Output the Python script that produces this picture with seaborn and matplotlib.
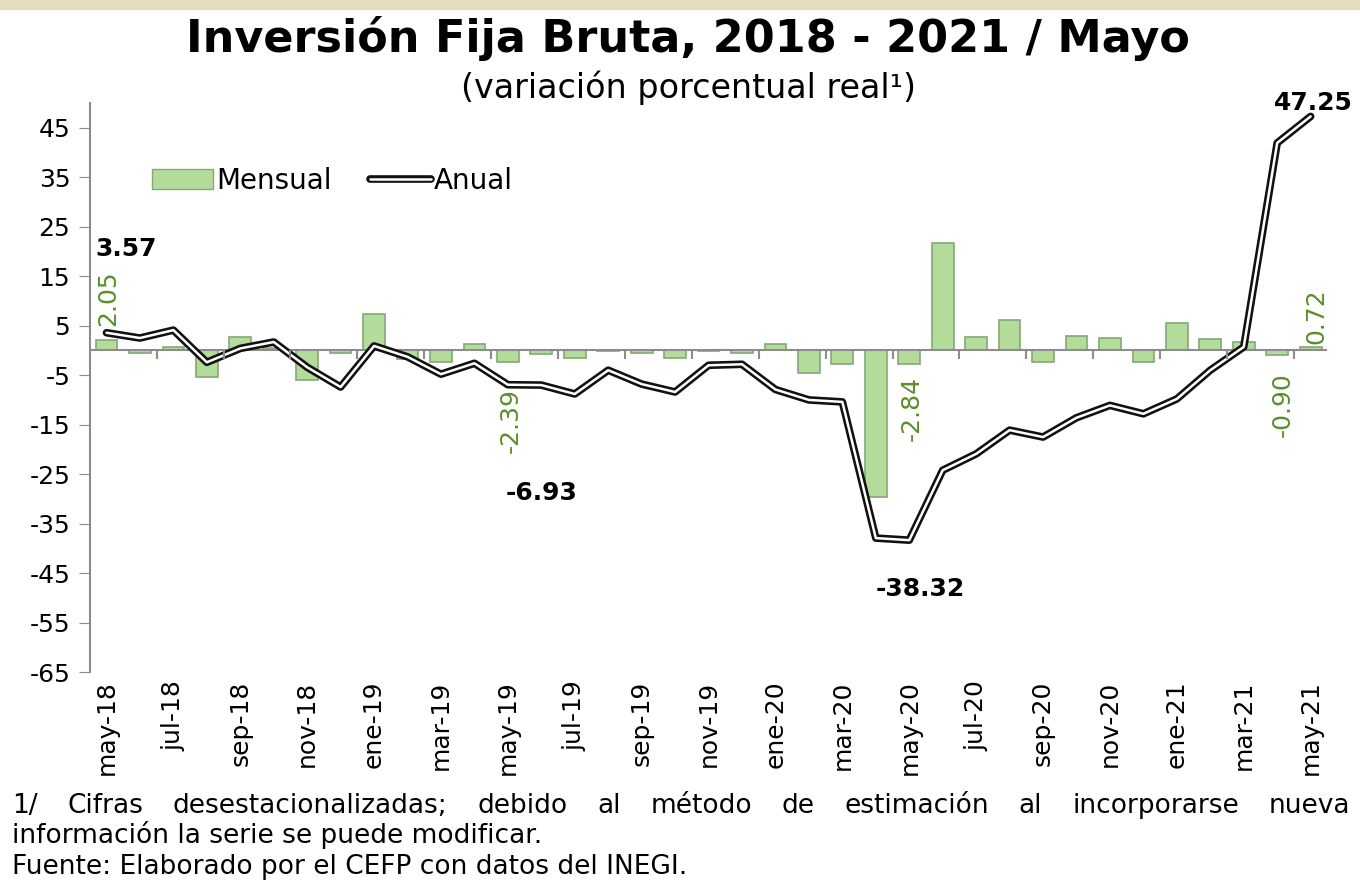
import numpy as np
import pandas as pd
import seaborn as sns
import matplotlib.pyplot as plt
import matplotlib.patheffects as pe
from matplotlib.lines import Line2D
from matplotlib.patches import Patch

# datos: variación porcentual real, may-18 a may-21
meses = ['may', 'jun', 'jul', 'ago', 'sep', 'oct', 'nov', 'dic',
         'ene', 'feb', 'mar', 'abr']
periodos = []
anio = 18
for k in range(37):
    m = meses[k % 12]
    if m == 'ene':
        anio += 1
    periodos.append(f'{m}-{anio}')

mensual = [2.05, -0.5, 0.6, -5.4, 2.7, 0.4, -6.0, -0.5, 7.4, -1.8,
           -2.3, 1.3, -2.39, -0.7, -1.5, -0.2, -0.6, -1.6, -0.1, -0.5,
           1.3, -4.5, -2.7, -29.6, -2.84, 21.7, 2.7, 6.1, -2.3, 2.9,
           2.6, -2.3, 5.5, 2.3, 1.7, -0.90, 0.72]
anual = [3.57, 2.5, 4.1, -2.4, 0.4, 1.7, -3.4, -7.4, 0.9, -1.3,
         -4.8, -2.6, -6.93, -7.0, -8.8, -4.0, -6.8, -8.4, -3.0, -2.8,
         -7.9, -10.0, -10.4, -37.9, -38.32, -24.2, -20.9, -16.1, -17.5, -13.6,
         -11.1, -12.8, -9.8, -4.0, 0.7, 41.9, 47.25]

nota1 = '1/ Cifras desestacionalizadas; debido al método de estimación al incorporarse nueva'
nota2 = 'información la serie se puede modificar.'
fuente = 'Fuente: Elaborado por el CEFP con datos del INEGI.'

df = pd.DataFrame({'periodo': periodos, 'mensual': mensual, 'anual': anual})
df['pos'] = np.arange(len(df))

sns.set_style('white')
plt.rcParams['font.family'] = ['DejaVu Sans']
plt.rcParams['axes.unicode_minus'] = False
plt.rcParams['text.color'] = 'black'
plt.rcParams['xtick.color'] = 'black'
plt.rcParams['ytick.color'] = 'black'

verde = '#b3dc9b'
verde_txt = '#5b8f2a'

fig = plt.figure(figsize=(13.6, 8.94), dpi=100)
ax = fig.add_axes([0.066, 0.248, 0.91, 0.637])

sns.barplot(data=df, x='periodo', y='mensual', order=periodos, color=verde,
            saturation=1, width=0.65, edgecolor='#86a778', linewidth=1.2, ax=ax)
ax.plot(df['pos'], df['anual'], color='white', lw=1.8,
        path_effects=[pe.Stroke(linewidth=5.5, foreground='#111111'), pe.Normal()])

ax.axhline(0, color='#8c8c8c', lw=1.5, zorder=1)
ax.vlines(np.arange(1.5, len(df), 2), 0, -1.8, color='#8c8c8c', lw=1.5)

ax.set_xlim(-0.5, 36.5)
ax.set_ylim(-65, 50)
ax.set_yticks(np.arange(-65, 46, 10))
ax.set_xticks(df['pos'][::2])
ax.set_xticklabels(df['periodo'][::2], rotation=90, fontsize=18)
ax.tick_params(axis='y', labelsize=18, length=8, color='#8c8c8c', direction='out', left=True, pad=6)
ax.tick_params(axis='x', length=0, pad=6)
ax.set_xlabel('')
ax.set_ylabel('')
for s in ['top', 'right', 'bottom']:
    ax.spines[s].set_visible(False)
ax.spines['left'].set_color('#8c8c8c')
ax.spines['left'].set_linewidth(1.5)

# etiquetas
negro = dict(fontsize=18, fontweight='bold', color='black', ha='center', va='center',
             textcoords='offset points')
ax.annotate('3.57', (0, anual[0]), xytext=(14, 60), **negro)
ax.annotate('-6.93', (12, anual[12]), xytext=(24, -78), **negro)
ax.annotate('-38.32', (24, anual[24]), xytext=(8, -35), **negro)
ax.annotate('47.25', (36, anual[36]), xytext=(2, 10), annotation_clip=False, **negro)

verdes = dict(fontsize=18, color=verde_txt, rotation=90, ha='center', va='center',
              textcoords='offset points')
ax.annotate('2.05', (0, mensual[0]), xytext=(1, 30), **verdes)
ax.annotate('-2.39', (12, mensual[12]), xytext=(2, -42), **verdes)
ax.annotate('-2.84', (24, mensual[24]), xytext=(2, -32), **verdes)
ax.annotate('-0.90', (35, mensual[35]), xytext=(4, -36), **verdes)
ax.annotate('0.72', (36, mensual[36]), xytext=(4, 22), **verdes)

h_mensual = Patch(facecolor=verde, edgecolor='#86a778')
h_anual = Line2D([], [], color='white', lw=1.8,
                 path_effects=[pe.Stroke(linewidth=5.5, foreground='#111111'), pe.Normal()])
ax.legend([h_mensual, h_anual], ['Mensual', 'Anual'], loc='center left',
          bbox_to_anchor=(0.03, 0.863), ncol=2, frameon=False, fontsize=20,
          handlelength=2.2, handletextpad=0.1, columnspacing=1.4)

fig.text(0.506, 0.957, 'Inversión Fija Bruta, 2018 - 2021 / Mayo', ha='center', va='center',
         fontsize=32, fontweight='bold')
fig.text(0.506, 0.902, '(variación porcentual real¹)', ha='center', va='center', fontsize=24)

# nota al pie, primera linea justificada
palabras = nota1.split()
textos = [fig.text(0, 0.098, p, ha='left', va='center', fontsize=19) for p in palabras]
rend = fig.canvas.get_renderer()
anchos = [t.get_window_extent(rend).width for t in textos]
x0, x1 = 12, 1350
hueco = (x1 - x0 - sum(anchos)) / (len(palabras) - 1)
x = x0
for t, w in zip(textos, anchos):
    t.set_x(x / 1360)
    x += w + hueco
fig.text(12 / 1360, 0.066, nota2, ha='left', va='center', fontsize=19)
fig.text(12 / 1360, 0.030, fuente, ha='left', va='center', fontsize=19)

# franja superior
fig.patches.append(plt.Rectangle((0, 0.99), 1, 0.01, transform=fig.transFigure,
                                 color='#e6dcc0', zorder=0))

fig.savefig('out.png', dpi=100)
